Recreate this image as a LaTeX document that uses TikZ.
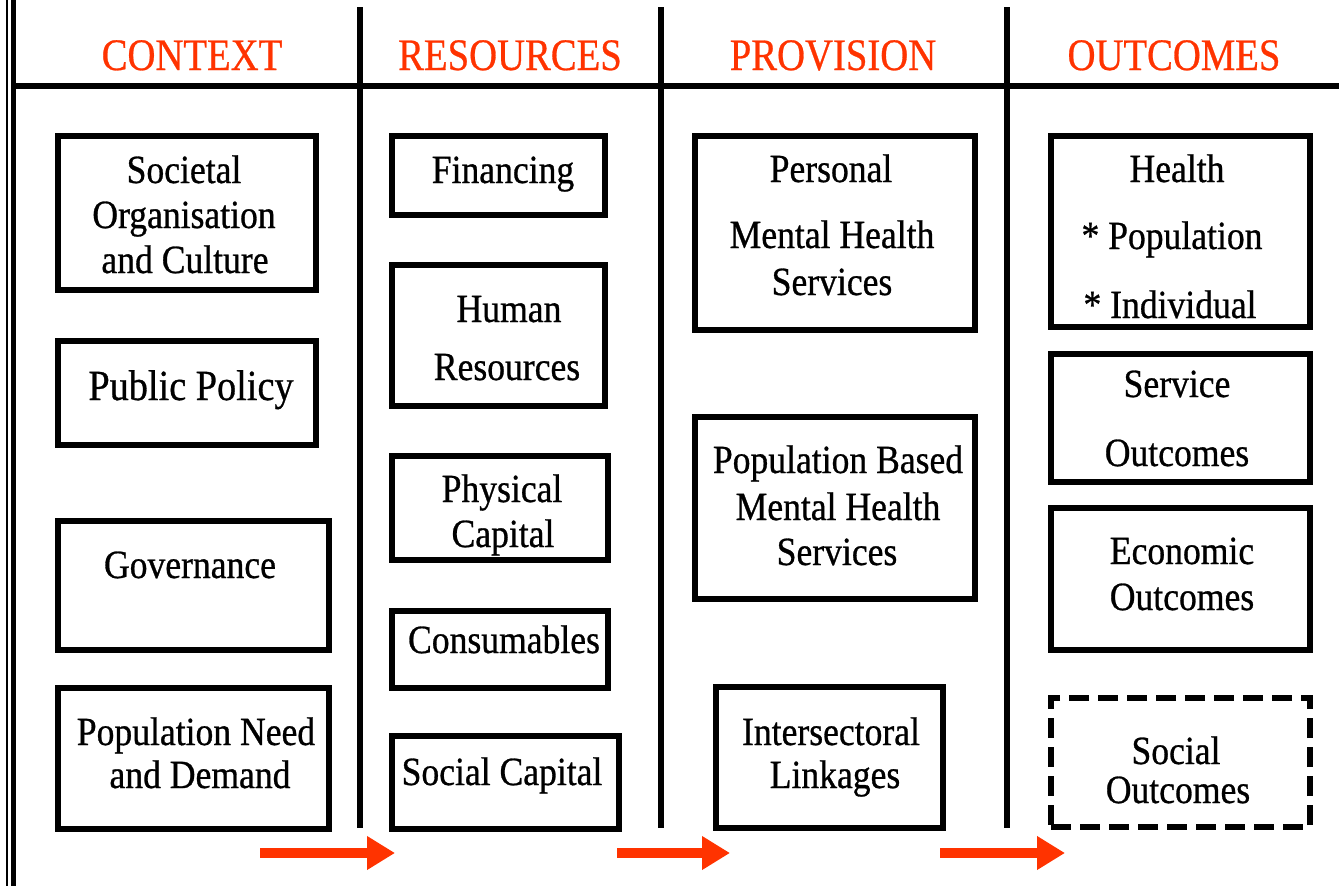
\documentclass[tikz,border=0pt]{standalone}
\usepackage{fontspec}
\setmainfont{Liberation Serif}
\newfontfamily\headfont[FakeStretch=0.86,FakeBold=0.6]{Liberation Serif}
\newfontfamily\boxfont[FakeStretch=0.89,FakeBold=0.7]{Liberation Serif}
\usetikzlibrary{arrows.meta,fit}
\definecolor{headred}{RGB}{255,51,0}

\begin{document}
\begin{tikzpicture}[x=1pt,y=-1pt,
  rule/.style={line width=5.5pt},
  box/.style={draw=black, line width=5.5pt, inner sep=0pt},
  dashbox/.style={box, dash pattern=on 20pt off 9pt},
  head/.style={anchor=base, inner sep=0pt, text=headred,
    font=\headfont\fontsize{45}{45}\selectfont},
  lbl/.style={anchor=base, inner sep=0pt,
    font=\boxfont\fontsize{40}{40}\selectfont},
  flow/.style={draw=headred, line width=10pt,
    -{Triangle[length=28pt,width=32pt]}}]

\useasboundingbox (0,0) rectangle (1339,886);

% frame: double rule on the left, header rule, column dividers
\draw[line width=1.8pt] (7,0) -- (7,886);
\draw[line width=5pt] (13.5,0) -- (13.5,886);
\draw[rule] (13,86) -- (1339,86);
\draw[rule] (360,7) -- (360,828);
\draw[rule] (661,7) -- (661,828);
\draw[rule] (1007,7) -- (1007,828);

% column headings
\node[head] (hctx)  at (192,70) {CONTEXT};
\node[head] (hres)  at (510,70) {RESOURCES};
\node[head] (hprov) at (833,70) {PROVISION};
\node[head] (hout)  at (1174,70) {OUTCOMES};

% CONTEXT
\node[box, fit={(58,136)(316,290)}] (soc) {};
\node[lbl] (soc1) at (184,183) {Societal};
\node[lbl] (soc2) at (184,228) {Organisation};
\node[lbl] (soc3) at (185,273) {and Culture};

\node[box, fit={(58,341)(316,445)}] (pol) {};
\node[lbl, font=\boxfont\fontsize{43}{43}\selectfont] (pol1) at (191,400) {Public Policy};

\node[box, fit={(58,521)(329,650)}] (gov) {};
\node[lbl] (gov1) at (190,578) {Governance};

\node[box, fit={(58,688)(329,829)}] (need) {};
\node[lbl] (need1) at (196,745) {Population Need};
\node[lbl] (need2) at (200,788) {and Demand};

% RESOURCES
\node[box, fit={(392,136)(605,215)}] (fin) {};
\node[lbl] (fin1) at (503,183) {Financing};

\node[box, fit={(392,265)(605,406)}] (hum) {};
\node[lbl] (hum1) at (509,322) {Human};
\node[lbl] (hum2) at (507,380) {Resources};

\node[box, fit={(392,456)(608,560)}] (phy) {};
\node[lbl] (phy1) at (502,502) {Physical};
\node[lbl] (phy2) at (503,547) {Capital};

\node[box, fit={(392,611)(608,688)}] (cons) {};
\node[lbl] (cons1) at (504,653) {Consumables};

\node[box, fit={(392,736)(619,829)}] (scap) {};
\node[lbl] (scap1) at (502,785) {Social Capital};

% PROVISION
\node[box, fit={(695,136)(975,330)}] (pers) {};
\node[lbl] (pers1) at (831,182) {Personal};
\node[lbl] (pers2) at (832,248) {Mental Health};
\node[lbl] (pers3) at (832,295) {Services};

\node[box, fit={(695,417)(975,599)}] (popb) {};
\node[lbl] (popb1) at (838,473) {Population Based};
\node[lbl] (popb2) at (838,520) {Mental Health};
\node[lbl] (popb3) at (837,565) {Services};

\node[box, fit={(716,687)(943,828)}] (inter) {};
\node[lbl] (inter1) at (831,745) {Intersectoral};
\node[lbl] (inter2) at (835,788) {Linkages};

% OUTCOMES
\node[box, fit={(1051,136)(1310,327)}] (hlth) {};
\node[lbl] (hlth1) at (1177,182) {Health};
\node[lbl] (hlth2) at (1172,249) {* Population};
\node[lbl] (hlth3) at (1170,318) {* Individual};

\node[box, fit={(1051,354)(1310,482)}] (serv) {};
\node[lbl] (serv1) at (1177,397) {Service};
\node[lbl] (serv2) at (1177,466) {Outcomes};

\node[box, fit={(1051,508)(1310,650)}] (econ) {};
\node[lbl] (econ1) at (1182,564) {Economic};
\node[lbl] (econ2) at (1182,610) {Outcomes};

\node[dashbox, fit={(1051,698)(1310,827)}] (socout) {};
\node[lbl] (socout1) at (1176,764) {Social};
\node[lbl] (socout2) at (1178,803) {Outcomes};

% flow arrows along the bottom
\coordinate (f1s) at (260,853); \coordinate (f1e) at (395,853);
\coordinate (f2s) at (617,853); \coordinate (f2e) at (730,853);
\coordinate (f3s) at (940,853); \coordinate (f3e) at (1065,853);
\draw[flow] (f1s) -- (f1e);
\draw[flow] (f2s) -- (f2e);
\draw[flow] (f3s) -- (f3e);
\end{tikzpicture}
\end{document}
